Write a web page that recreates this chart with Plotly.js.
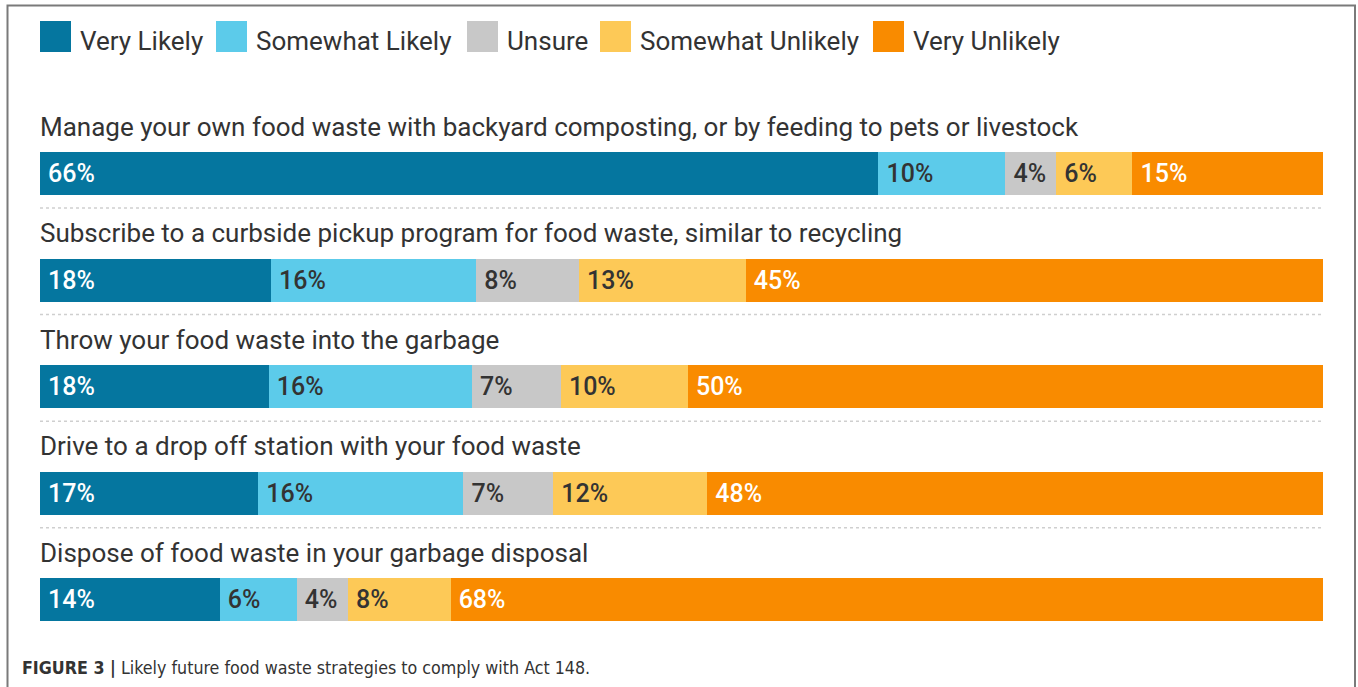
<!DOCTYPE html>
<html>
<head>
<meta charset="utf-8">
<script src="https://cdn.plot.ly/plotly-3.0.1.min.js"></script>
<style>
  html, body { margin: 0; padding: 0; background: #fff; }
  #chart { width: 1358px; height: 687px; }
</style>
</head>
<body>
<div id="chart"></div>
<script>
// ---- Data ----
const categories = [
  "Manage your own food waste with backyard composting, or by feeding to pets or livestock",
  "Subscribe to a curbside pickup program for food waste, similar to recycling",
  "Throw your food waste into the garbage",
  "Drive to a drop off station with your food waste",
  "Dispose of food waste in your garbage disposal"
];
const seriesNames = ["Very Likely", "Somewhat Likely", "Unsure", "Somewhat Unlikely", "Very Unlikely"];
const veryLikely       = [66, 18, 18, 17, 14];
const somewhatLikely   = [10, 16, 16, 16, 6];
const unsure           = [4, 8, 7, 7, 4];
const somewhatUnlikely = [6, 13, 10, 12, 8];
const veryUnlikely     = [15, 45, 50, 48, 68];
const caption = "<b>FIGURE 3 |</b> Likely future food waste strategies to comply with Act 148.";

// ---- Styles ----
const seriesValues = [veryLikely, somewhatLikely, unsure, somewhatUnlikely, veryUnlikely];
const colors = ["#05769f", "#5ccbea", "#c8c8c8", "#fdc957", "#f98b00"];
const textColors = ["#ffffff", "#333333", "#333333", "#333333", "#ffffff"];
const FONT = "Roboto, 'Noto Sans', sans-serif";
const W = 1358, H = 687;
const M = {l: 40, r: 35, t: 67, b: 34};
const PW = W - M.l - M.r, PH = H - M.t - M.b;
const px = x => (x - M.l) / PW;
const py = y => (M.t + PH - y) / PH;

const traces = seriesNames.map((name, i) => ({
  type: "bar",
  orientation: "h",
  name: name,
  y: categories,
  x: seriesValues[i],
  text: seriesValues[i].map(v => "\u2009" + v + "%"),
  textposition: "inside",
  insidetextanchor: "start",
  textfont: {family: FONT, size: 25, color: textColors[i], weight: 500},
  constraintext: "none",
  marker: {color: colors[i], line: {width: 0}},
  width: 0.404,
  hoverinfo: "none",
  showlegend: false
}));

const shapes = [];
const annotations = [];

// Separators (dotted)
for (let i = 0; i < categories.length - 1; i++) {
  shapes.push({
    type: "line", xref: "x", yref: "y",
    x0: 0, x1: 100, y0: i + 0.324, y1: i + 0.324,
    line: {color: "#cfcfcf", width: 1.5, dash: "dot"}
  });
}

// Category labels above bars
categories.forEach(c => {
  annotations.push({
    xref: "x", yref: "y", x: 0, y: c,
    xanchor: "left", yanchor: "middle", yshift: 47, xshift: -2,
    text: c, showarrow: false,
    font: {family: FONT, size: 26, color: "#333333"}
  });
});

// Custom legend
const legendSquares = [40, 216, 467, 600, 873];
seriesNames.forEach((name, i) => {
  const x0 = legendSquares[i];
  shapes.push({
    type: "rect", xref: "paper", yref: "paper",
    x0: px(x0), x1: px(x0 + 31), y0: py(52), y1: py(21),
    fillcolor: colors[i], line: {width: 0}
  });
  annotations.push({
    xref: "paper", yref: "paper", x: px(x0 + 38), y: py(41),
    xanchor: "left", yanchor: "middle",
    text: name, showarrow: false,
    font: {family: FONT, size: 26, color: "#333333"}
  });
});

// Caption
annotations.push({
  xref: "paper", yref: "paper", x: px(20), y: py(668),
  xanchor: "left", yanchor: "middle",
  text: caption, showarrow: false,
  font: {family: "'Liberation Sans Narrow', 'DejaVu Sans Condensed', 'Arial Narrow', sans-serif", size: 17.7, color: "#333333"}
});

// Border box
shapes.push({
  type: "rect", xref: "paper", yref: "paper",
  x0: px(7.5), x1: px(1355), y0: py(5.5), y1: py(740),
  fillcolor: "rgba(0,0,0,0)", line: {color: "#7a7a7a", width: 2}
});

const layout = {
  width: W, height: H,
  margin: M,
  barmode: "stack",
  barnorm: "percent",
  paper_bgcolor: "#ffffff",
  plot_bgcolor: "#ffffff",
  showlegend: false,
  xaxis: {range: [0, 100], visible: false, fixedrange: true},
  yaxis: {type: "category", categoryarray: categories, categoryorder: "array",
          range: [4.5, -1], visible: false, fixedrange: true},
  shapes: shapes,
  annotations: annotations,
  font: {family: FONT}
};

Plotly.newPlot("chart", traces, layout, {displayModeBar: false, staticPlot: true});
</script>
</body>
</html>
